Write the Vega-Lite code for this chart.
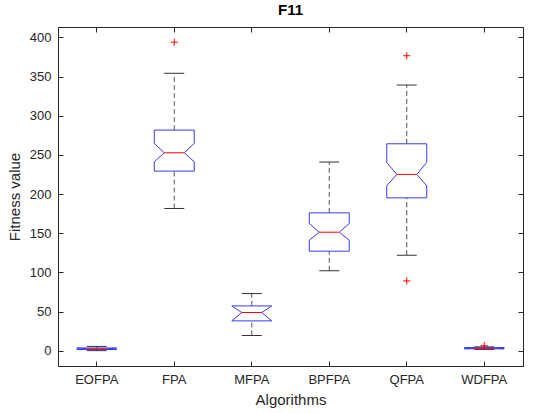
{
  "$schema": "https://vega.github.io/schema/vega-lite/v6.json",
  "width": 465,
  "height": 339,
  "autosize": {"type": "none"},
  "padding": {"left": 58, "top": 27, "right": 19, "bottom": 47},
  "background": "white",
  "title": {"text": "F11", "fontSize": 15, "fontWeight": "bold", "font": "Liberation Sans", "color": "#000000", "offset": 9},
  "datasets": {
    "stats": [
      {"alg": "EOFPA", "lo": 0.2, "q1": 1.6, "nlo": 1.6, "med": 2.6, "nhi": 3.6, "q3": 3.6, "hi": 5.6},
      {"alg": "FPA", "lo": 181.7, "q1": 229.4, "nlo": 241.3, "med": 252.8, "nhi": 264.8, "q3": 281.8, "hi": 354.3},
      {"alg": "MFPA", "lo": 19.5, "q1": 38.2, "nlo": 38.2, "med": 48.9, "nhi": 57.3, "q3": 57.3, "hi": 73.1},
      {"alg": "BPFPA", "lo": 102.2, "q1": 127.2, "nlo": 141.2, "med": 151.4, "nhi": 162.6, "q3": 176.1, "hi": 241.0},
      {"alg": "QFPA", "lo": 122.0, "q1": 195.3, "nlo": 210.6, "med": 225.2, "nhi": 240.5, "q3": 264.3, "hi": 339.3},
      {"alg": "WDFPA", "lo": 1.8, "q1": 2.6, "nlo": 2.6, "med": 3.3, "nhi": 4.0, "q3": 4.0, "hi": 5.0}
    ],
    "outliers": [
      {"alg": "FPA", "value": 394},
      {"alg": "QFPA", "value": 376.7},
      {"alg": "QFPA", "value": 89.2},
      {"alg": "WDFPA", "value": 6.5}
    ]
  },
  "encoding": {
    "x": {
      "field": "alg", "type": "nominal",
      "sort": ["EOFPA", "FPA", "MFPA", "BPFPA", "QFPA", "WDFPA"],
      "scale": {"type": "band", "paddingInner": 0, "paddingOuter": 0},
      "title": "Algorithms",
      "axis": {"labelAngle": 0, "labelPadding": 12, "titlePadding": 6}
    }
  },
  "layer": [
    {
      "data": {"name": "stats"},
      "layer": [
        {"mark": {"type": "rule", "color": "#555555", "strokeWidth": 1, "strokeDash": [5, 3]},
         "encoding": {"y": {"field": "q3", "type": "quantitative", "scale": {"domain": [-19.4, 413.4], "nice": false, "zero": false}, "title": "Fitness value", "axis": {"labelPadding": 12, "titlePadding": 7}}, "y2": {"field": "hi"}}},
        {"mark": {"type": "rule", "color": "#555555", "strokeWidth": 1, "strokeDash": [5, 3]},
         "encoding": {"y": {"field": "lo", "type": "quantitative", "title": "Fitness value"}, "y2": {"field": "q1"}}},
        {"mark": {"type": "rule", "color": "#333333", "strokeWidth": 1, "xOffset": -10, "x2Offset": 10},
         "encoding": {"x2": {"field": "alg"}, "y": {"field": "hi", "type": "quantitative", "title": "Fitness value"}}},
        {"mark": {"type": "rule", "color": "#333333", "strokeWidth": 1, "xOffset": -10, "x2Offset": 10},
         "encoding": {"x2": {"field": "alg"}, "y": {"field": "lo", "type": "quantitative", "title": "Fitness value"}}},
        {"mark": {"type": "rule", "color": "#3a3af0", "strokeWidth": 1, "xOffset": -20, "x2Offset": 20},
         "encoding": {"x2": {"field": "alg"}, "y": {"field": "q3", "type": "quantitative", "title": "Fitness value"}}},
        {"mark": {"type": "rule", "color": "#3a3af0", "strokeWidth": 1, "xOffset": -20, "x2Offset": 20},
         "encoding": {"x2": {"field": "alg"}, "y": {"field": "q1", "type": "quantitative", "title": "Fitness value"}}},
        {"mark": {"type": "rule", "color": "#3a3af0", "strokeWidth": 1, "xOffset": -20},
         "encoding": {"y": {"field": "q3", "type": "quantitative", "title": "Fitness value"}, "y2": {"field": "nhi"}}},
        {"mark": {"type": "rule", "color": "#3a3af0", "strokeWidth": 1, "xOffset": 20},
         "encoding": {"y": {"field": "q3", "type": "quantitative", "title": "Fitness value"}, "y2": {"field": "nhi"}}},
        {"mark": {"type": "rule", "color": "#3a3af0", "strokeWidth": 1, "xOffset": -20},
         "encoding": {"y": {"field": "nlo", "type": "quantitative", "title": "Fitness value"}, "y2": {"field": "q1"}}},
        {"mark": {"type": "rule", "color": "#3a3af0", "strokeWidth": 1, "xOffset": 20},
         "encoding": {"y": {"field": "nlo", "type": "quantitative", "title": "Fitness value"}, "y2": {"field": "q1"}}},
        {"mark": {"type": "rule", "color": "#3a3af0", "strokeWidth": 1, "xOffset": -20, "x2Offset": -10},
         "encoding": {"x2": {"field": "alg"}, "y": {"field": "nhi", "type": "quantitative", "title": "Fitness value"}, "y2": {"field": "med"}}},
        {"mark": {"type": "rule", "color": "#3a3af0", "strokeWidth": 1, "xOffset": -10, "x2Offset": -20},
         "encoding": {"x2": {"field": "alg"}, "y": {"field": "med", "type": "quantitative", "title": "Fitness value"}, "y2": {"field": "nlo"}}},
        {"mark": {"type": "rule", "color": "#3a3af0", "strokeWidth": 1, "xOffset": 20, "x2Offset": 10},
         "encoding": {"x2": {"field": "alg"}, "y": {"field": "nhi", "type": "quantitative", "title": "Fitness value"}, "y2": {"field": "med"}}},
        {"mark": {"type": "rule", "color": "#3a3af0", "strokeWidth": 1, "xOffset": 10, "x2Offset": 20},
         "encoding": {"x2": {"field": "alg"}, "y": {"field": "med", "type": "quantitative", "title": "Fitness value"}, "y2": {"field": "nlo"}}},
        {"mark": {"type": "rule", "color": "#ff0000", "strokeWidth": 1, "xOffset": -10, "x2Offset": 10},
         "encoding": {"x2": {"field": "alg"}, "y": {"field": "med", "type": "quantitative", "title": "Fitness value"}}}
      ]
    },
    {
      "data": {"name": "outliers"},
      "mark": {"type": "point", "shape": "M-1,0L1,0M0,-1L0,1", "filled": false, "stroke": "#ff0000", "strokeWidth": 1, "size": 50, "opacity": 1},
      "encoding": {
        "x": {
          "field": "alg", "type": "nominal",
          "sort": ["EOFPA", "FPA", "MFPA", "BPFPA", "QFPA", "WDFPA"],
          "scale": {"type": "band", "paddingInner": 0, "paddingOuter": 0},
          "axis": {"orient": "top", "labels": false, "title": null, "domain": false}
        },
        "y": {"field": "value", "type": "quantitative", "axis": {"orient": "right", "labels": false, "title": null, "domain": false}}
      }
    }
  ],
  "resolve": {"axis": {"x": "independent", "y": "independent"}},
  "config": {
    "font": "Liberation Sans",
    "view": {"stroke": "#262626", "strokeWidth": 1},
    "axis": {
      "labelFont": "Liberation Sans", "labelFontSize": 13, "labelColor": "#262626",
      "titleFont": "Liberation Sans", "titleFontSize": 15, "titleFontWeight": "normal", "titleColor": "#262626",
      "domainColor": "#262626", "tickColor": "#262626", "grid": false, "tickSize": -5
    }
  }
}
